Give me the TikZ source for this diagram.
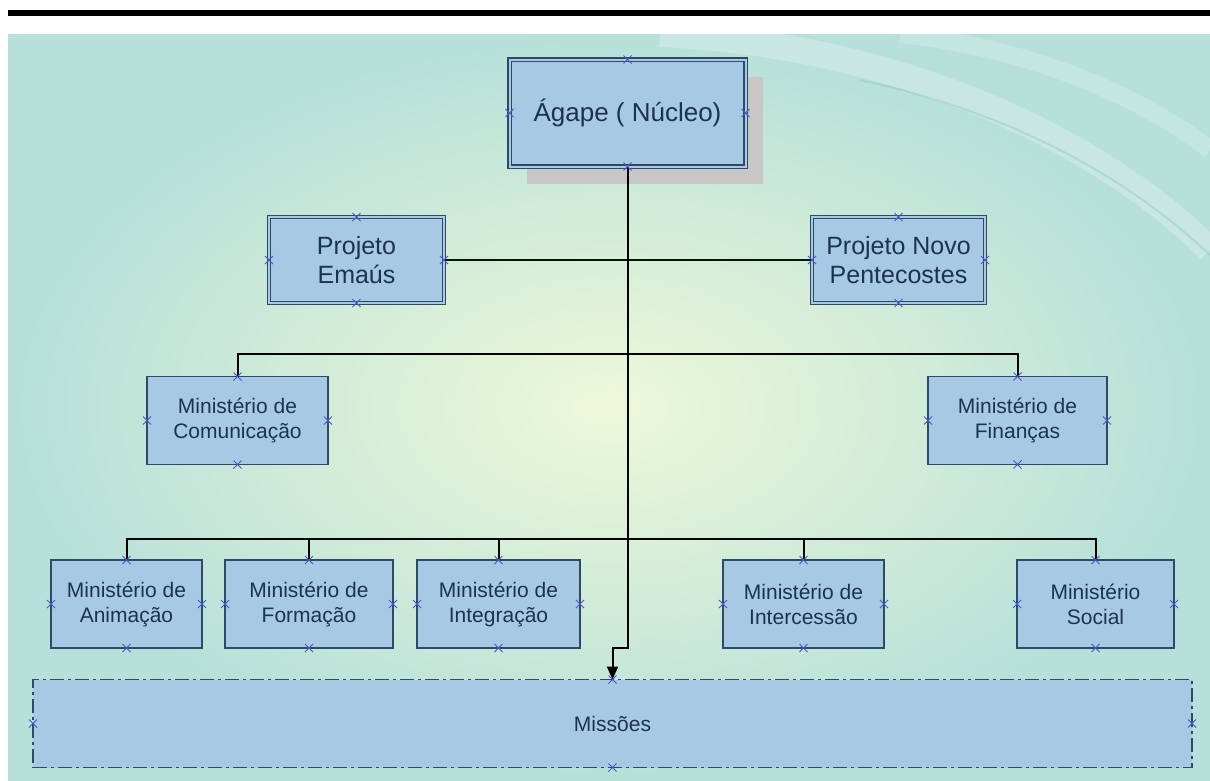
\documentclass[tikz,border=0pt]{standalone}
\usepackage{fontspec}
\setmainfont{Liberation Sans}
\usetikzlibrary{arrows.meta,shadows,positioning}
\definecolor{boxfill}{HTML}{A8C9E4}
\definecolor{boxline}{HTML}{2E4A66}
\definecolor{boxtext}{HTML}{1C3350}
\definecolor{bgout}{HTML}{B6E0D9}
\definecolor{bgin}{HTML}{EEF8D8}
\definecolor{markblue}{HTML}{4B56C8}
\definecolor{shadowgray}{HTML}{C9C6C8}
\tikzset{
  ministerio/.style={draw=boxline, fill=boxfill, line width=1.7pt, text=boxtext, align=center,
    inner sep=0pt, outer sep=0pt, minimum height=88pt, font=\fontsize{21}{25}\selectfont},
  projeto/.style={ministerio, double=boxfill, double distance=2pt, line width=1.1pt,
    minimum height=86pt, font=\fontsize{25}{29}\selectfont},
  link/.style={line width=2pt},
}
\newcommand\marcas[1]{\foreach \a in {north,south,east,west} {\draw[markblue,line width=1pt] (#1.\a) +(-4pt,-4pt) -- +(4pt,4pt) +(-4pt,4pt) -- +(4pt,-4pt);}}
\begin{document}
\begin{tikzpicture}[x=1pt,y=-1pt]
\useasboundingbox (0,0) rectangle (1210,780);
\fill[white] (0,0) rectangle (1210,780);
\fill[black] (8,10) rectangle (1210,16); %top rule
\shade[inner color=bgin, outer color=bgout] (8,34) rectangle (1210,780); %background
\draw[white, opacity=0.25, line width=26pt] (660,34) .. controls (900,45) and (1100,140) .. (1210,250);
\draw[white, opacity=0.2, line width=18pt] (900,34) .. controls (1050,50) and (1160,110) .. (1210,150);
\draw[bgout!70!teal, opacity=0.35, line width=2pt] (860,80) .. controls (1000,110) and (1120,170) .. (1210,255);
% boxes
\node[projeto, minimum width=236pt, minimum height=107pt, font=\fontsize{26}{30}\selectfont,
  drop shadow={shadow xshift=17pt, shadow yshift=-17pt, fill=shadowgray, opacity=1}] (agape) at (627.5,113) {Ágape ( Núcleo)};
\node[projeto, minimum width=175pt] (emaus) at (356.5,260) {Projeto\\Emaús};
\node[projeto, minimum width=173pt] (novo) at (898.5,260) {Projeto Novo\\Pentecostes};
\node[ministerio, minimum width=181pt] (comunicacao) at (237.5,420.5) {Ministério de\\Comunicação};
\node[ministerio, minimum width=179pt] (financas) at (1017.5,420.5) {Ministério de\\Finanças};
\node[ministerio, minimum width=151pt] (animacao) at (126.5,604) {Ministério de\\Animação};
\node[ministerio, minimum width=168pt] (formacao) at (309,604) {Ministério de\\Formação};
\node[ministerio, minimum width=163pt] (integracao) at (498.5,604) {Ministério de\\Integração};
\node[ministerio, minimum width=161pt] (intercessao) at (803.5,604) {Ministério de\\Intercessão};
\node[ministerio, minimum width=157pt] (social) at (1095.5,604) {Ministério\\Social};
\node[ministerio, minimum width=1159pt, line width=1.6pt,
  dash pattern=on 14pt off 4pt on 3pt off 4pt] (missoes) at (612.5,723.5) {Missões};
% connectors
\coordinate (bus1) at (627.5,354);
\coordinate (bus2) at (627.5,539);
\coordinate (jog) at (627.5,648);
\draw[link, black!75!green!40!black] (emaus.east) -- (novo.west);
\draw[link] (comunicacao.north) |- (bus1) -| (financas.north);
\draw[link] (animacao.north) |- (bus2) -| (social.north);
\foreach \n in {formacao,integracao,intercessao} { \draw[link] (bus2 -| \n.north) -- (\n.north); }
\draw[link, -{Triangle[width=11pt,length=13pt]}] (agape.south) -- (jog) -| (missoes.north);
\foreach \n in {agape,emaus,novo,comunicacao,financas,animacao,formacao,integracao,intercessao,social,missoes} { \marcas{\n} }
\end{tikzpicture}
\end{document}
